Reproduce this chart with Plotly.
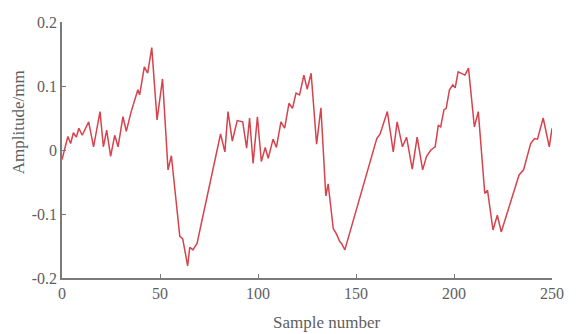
import plotly.graph_objects as go

# Vertices of the amplitude trace (sample number, amplitude in mm)
sample = [0, 3, 4.4, 5.8, 7.3, 8.6, 10.3, 13.6, 16.1, 19.4, 21.1, 22.8, 24.8, 26.9,
          28.6, 31.1, 32.8, 35.3, 38.7, 39.6, 42.0, 43.7, 45.8, 48.5, 51.3, 54.1,
          55.8, 60.1, 61.6, 64.1, 65.2, 66.8, 68.9, 80.9, 83.1, 84.7, 86.9, 89.4,
          92.2, 94.2, 95.7, 97.5, 99.7, 101.7, 103.7, 105.2, 107.7, 109.4, 111.7,
          113.6, 115.8, 117.6, 119.4, 121.2, 123.4, 125.1, 127.1, 129.9, 132.1,
          134.6, 135.8, 138.4, 140.0, 141.7, 142.6, 144.3, 160.6, 162.3, 166.0,
          169.0, 171.0, 173.7, 175.8, 178.7, 181.2, 184.0, 186.0, 188.2, 190.4,
          192.0, 193.2, 194.9, 196.0, 197.7, 199.4, 200.6, 202.1, 203.7, 205.6,
          207.4, 210.4, 212.4, 215.7, 217.1, 219.9, 222.1, 224.1, 233.2, 235.5,
          239.1, 241.1, 242.6, 245.5, 248.6, 250]
amplitude = [-0.015, 0.021, 0.010, 0.027, 0.020, 0.034, 0.023, 0.044, 0.005, 0.060,
             0.005, 0.031, -0.010, 0.023, 0.005, 0.052, 0.029, 0.060, 0.094, 0.086,
             0.130, 0.120, 0.160, 0.047, 0.111, -0.031, -0.009, -0.135, -0.139,
             -0.181, -0.152, -0.156, -0.146, 0.025, -0.003, 0.060, 0.014, 0.046,
             0.044, 0.003, 0.050, -0.021, 0.052, -0.018, 0.004, -0.013, 0.017,
             0.004, 0.044, 0.034, 0.073, 0.065, 0.089, 0.086, 0.117, 0.095, 0.120,
             0.009, 0.066, -0.072, -0.053, -0.123, -0.131, -0.143, -0.146, -0.156,
             0.018, 0.025, 0.060, -0.003, 0.044, 0.005, 0.020, -0.030, 0.020,
             -0.031, -0.010, 0.000, 0.005, 0.039, 0.036, 0.063, 0.065, 0.094,
             0.102, 0.097, 0.122, 0.120, 0.117, 0.128, 0.036, 0.060, -0.068,
             -0.063, -0.125, -0.102, -0.128, -0.039, -0.031, 0.010, 0.018, 0.017,
             0.050, 0.005, 0.034]

x_ticks = [0, 50, 100, 150, 200, 250]
y_ticks = [-0.2, -0.1, 0, 0.1, 0.2]
y_tick_labels = ["-0.2", "-0.1", "0", "0.1", "0.2"]

font_family = "Liberation Serif, Times New Roman, serif"
text_color = "#5e5e5e"
axis_color = "#7a7a7a"

fig = go.Figure(
    go.Scatter(
        x=sample,
        y=amplitude,
        mode="lines",
        line=dict(color="#d6434d", width=1.5),
        hoverinfo="skip",
    )
)

axis_common = dict(
    showgrid=False,
    zeroline=False,
    showline=True,
    linecolor=axis_color,
    linewidth=1.5,
    ticks="inside",
    ticklen=4,
    tickwidth=1,
    tickcolor=axis_color,
    tickfont=dict(family=font_family, size=16, color=text_color),
    mirror=False,
)

fig.update_xaxes(range=[0, 250], tickmode="array", tickvals=x_ticks, **axis_common)
fig.update_yaxes(range=[-0.2, 0.2], tickmode="array", tickvals=y_ticks,
                 ticktext=y_tick_labels, **axis_common)

fig.add_annotation(
    text="Sample number", xref="paper", yref="paper", x=0.54, y=-0.172,
    xanchor="center", yanchor="middle", showarrow=False,
    font=dict(family=font_family, size=17, color=text_color),
)
fig.add_annotation(
    text="Amplitude/mm", xref="paper", yref="paper", x=-0.089, y=0.61,
    xanchor="center", yanchor="middle", showarrow=False, textangle=-90,
    font=dict(family=font_family, size=17, color=text_color),
)

fig.update_layout(
    width=576,
    height=334,
    margin=dict(l=62, r=14, t=22, b=56),
    paper_bgcolor="white",
    plot_bgcolor="white",
    showlegend=False,
)

fig.write_html("out.html")
